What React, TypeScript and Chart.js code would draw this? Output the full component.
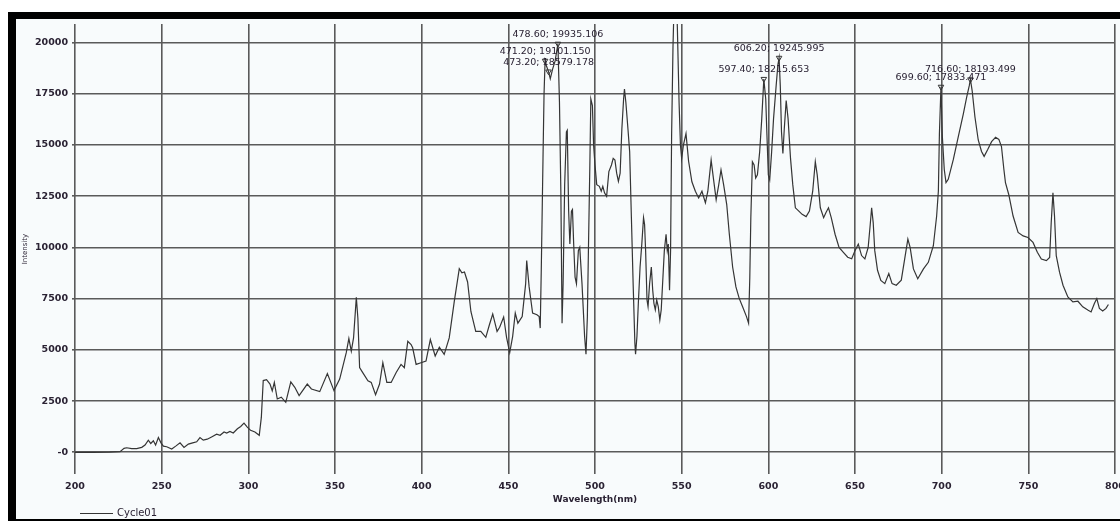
import React, { useEffect, useRef } from 'react';
import { Chart, registerables } from 'chart.js';

Chart.register(...registerables);

const seriesName = 'Cycle01';
const xTitle = 'Wavelength(nm)';
const yTitle = 'Intensity';

const wavelengths = [
  200, 210, 220, 226, 228.3, 229.8, 232.7, 235.6, 238.5, 240.4, 242.3, 243.7, 245.2, 246.5, 248.1, 249.6,
  251, 252.9, 255.8, 258.1, 260.6, 262.9, 265.4, 267.9, 270.2, 272.1, 274, 276.3, 278.8, 281.7, 283.7, 286,
  287.5, 289.4, 291.3, 293.7, 295.6, 297.5, 299.4, 301.3, 303.8, 306.3, 307.5, 308.6, 310.5, 312.5, 313.8, 315,
  316.7, 319, 321.6, 324.5, 326.8, 329.3, 334, 336.4, 341.2, 345.6, 349.4, 352.7, 356.5, 358, 359.4, 360.7,
  362.3, 363.2, 364.2, 366, 369, 370.9, 373.4, 375.7, 377.6, 379.9, 382.4, 385.3, 388.1, 390, 392, 393.9,
  394.8, 396.8, 399.6, 402.5, 405, 407.8, 410.2, 413, 415.9, 418.8, 421.7, 423.2, 424.7, 426.5, 428.4, 431.2,
  434.1, 437, 439, 441, 443.5, 445, 447.3, 449, 450.8, 452.5, 454, 455.5, 458, 460, 460.6, 462,
  464, 466.5, 467.8, 468.4, 469, 470, 470.6, 471.2, 472, 473.2, 474.2, 475.5, 477, 478.6, 479.5, 480.3,
  481, 481.6, 482.5, 483.5, 484, 484.8, 485.5, 486.4, 487, 487.7, 488.5, 489.3, 490.4, 491.2, 492.5, 494,
  494.8, 495.6, 496.2, 497, 497.6, 498.5, 499.2, 500, 501, 502.5, 503.6, 504.5, 505.5, 506.7, 508, 509.5,
  510.5, 511.5, 512.5, 513.5, 514.5, 515.5, 516.5, 517, 517.8, 519, 520, 521, 522, 523, 523.4, 524.2,
  525, 526, 527, 528, 528.6, 529.2, 530, 530.6, 531.5, 532.5, 533.3, 534, 534.8, 535.6, 536.5, 537.4,
  538.2, 539, 540, 541, 541.7, 542.3, 543, 543.6, 544.2, 545, 545.8, 546.8, 547.5, 548.5, 549.3, 550,
  551, 552.5, 554, 555.9, 557.9, 559.8, 561.7, 563.7, 565.1, 567, 568.3, 569.9, 571.4, 572.7, 574.2, 576,
  577.5, 579.4, 581.3, 583.2, 585.1, 587.4, 588.6, 589.3, 589.9, 590.8, 591.8, 592.7, 593.7, 595, 596.2, 597.4,
  598.5, 599.2, 600, 600.8, 601.9, 603, 604.5, 605.5, 606.2, 606.9, 607.6, 608.4, 609.2, 610.3, 611.4, 612.8,
  614.1, 615.6, 617.6, 619.5, 621.8, 623.7, 625.6, 627.1, 628.2, 630, 631.9, 633.2, 634.7, 636.3, 638.5, 640.8,
  643.3, 645.8, 648.1, 650, 651.9, 653.8, 655.7, 657.6, 658.8, 659.6, 660.5, 661.4, 663, 664.9, 667.2, 669.5,
  671.4, 673.8, 676.7, 678.6, 680.5, 681.8, 683.7, 686.2, 689.5, 692.3, 695.2, 697.1, 698.1, 698.7, 699.6, 700.4,
  701.5, 702.5, 703.8, 706.7, 709.6, 712.5, 714.4, 715.9, 716.6, 717.6, 719.2, 721.1, 723, 724.5, 726.5, 728.8,
  731.1, 733, 734.5, 735.9, 736.8, 738.7, 741.2, 744.1, 747, 749.8, 752.7, 755.2, 757.5, 760.4, 762.3, 763.2,
  764.2, 765.1, 766.1, 768, 770, 772.8, 775.7, 778.6, 781.4, 784.3, 786.2, 788.1, 789.5, 791, 792.9, 794.8,
  796.2,
];

const intensities = [
  0, 0, 10, 30, 190, 220, 175, 175, 240, 350, 590, 430, 560, 350, 720, 460,
  300, 270, 160, 300, 460, 240, 400, 460, 510, 720, 590, 640, 750, 880, 830, 990,
  940, 1020, 940, 1150, 1260, 1420, 1230, 1070, 990, 830, 1700, 3500, 3540, 3330, 3000, 3410,
  2600, 2690, 2440, 3440, 3170, 2770, 3330, 3090, 2960, 3840, 3010, 3570, 4860, 5550, 4940, 5580,
  7560, 6540, 4130, 3890, 3490, 3410, 2810, 3330, 4370, 3410, 3410, 3890, 4290, 4130, 5420, 5260,
  5100, 4290, 4370, 4450, 5500, 4700, 5130, 4780, 5580, 7350, 8960, 8760, 8800, 8310, 6870, 5900,
  5900, 5610, 6200, 6750, 5900, 6100, 6600, 5600, 4860, 5660, 6790, 6300, 6620, 8230, 9360, 8070,
  6790, 6710, 6620, 6060, 8880, 14340, 17480, 19101.15, 18850, 18579.178, 18230, 18690, 19100, 19935.106, 17080, 12740,
  6300, 8230, 13060, 15630, 15710, 11770, 10160, 11770, 11850, 10160, 8550, 8230, 9840, 10000, 8230, 5660,
  4780, 6620, 9840, 13860, 17240, 16920, 14990, 14020, 13060, 12980, 12740, 12980, 12660, 12490, 13700, 14020,
  14340, 14260, 13620, 13220, 13620, 15790, 17240, 17720, 17080, 15790, 14660, 11450, 8230, 5340, 4780, 5660,
  7270, 9040, 10160, 11450, 11130, 9840, 7430, 7110, 8230, 9040, 7910, 7270, 6950, 7430, 7110, 6460,
  6950, 8230, 9840, 10640, 9840, 10160, 7910, 9840, 15470, 19810, 22500, 22500, 20780, 17080, 14990, 14340,
  14990, 15550, 14200, 13200, 12740, 12410, 12740, 12170, 12740, 14260, 13380, 12330, 13060, 13780, 13060, 12090,
  10640, 9040, 8070, 7510, 7110, 6620, 6300, 8500, 11450, 14180, 14020, 13380, 13540, 14660, 16270, 18215.653,
  17240, 15470, 13540, 13300, 14660, 16270, 17880, 18900, 19245.995, 17880, 15630, 14580, 15790, 17160, 16270, 14340,
  13060, 11930, 11770, 11610, 11500, 11770, 12740, 14180, 13540, 11930, 11450, 11690, 11930, 11450, 10640, 10000,
  9760, 9520, 9440, 9840, 10160, 9600, 9440, 10000, 11130, 11930, 11210, 9840, 8880, 8390, 8230, 8720,
  8230, 8150, 8400, 9400, 10400, 10000, 8950, 8470, 8950, 9270, 10080, 11530, 12750, 15560, 17833.471, 15400,
  13800, 13160, 13320, 14280, 15400, 16520, 17320, 17880, 18193.499, 17640, 16360, 15240, 14680, 14440, 14760, 15160,
  15370, 15270, 14920, 13800, 13160, 12580, 11530, 10730, 10560, 10480, 10240, 9760, 9430, 9350, 9510, 11210,
  12660, 11530, 9600, 8790, 8150, 7580, 7340, 7370, 7100, 6940, 6850, 7260, 7500, 7020, 6890, 7020,
  7210,
];

const peakWavelengths = [478.6, 471.2, 473.2, 606.2, 597.4, 716.6, 699.6];
const peakIntensities = [19935.106, 19101.15, 18579.178, 19245.995, 18215.653, 18193.499, 17833.471];

const xTicks = [200, 250, 300, 350, 400, 450, 500, 550, 600, 650, 700, 750, 800];
const yTicks = [0, 2500, 5000, 7500, 10000, 12500, 15000, 17500, 20000];
const yTickLabels = ['-0', '2500', '5000', '7500', '10000', '12500', '15000', '17500', '20000'];

const TEXT = '#2a2233';
const GRID = '#5a5a5a';
const LINE = '#353535';

const peakLabelPlugin = {
  id: 'peakLabels',
  afterDatasetsDraw(chart: any) {
    const { ctx, scales } = chart;
    const xs = scales.x;
    const ys = scales.y;
    ctx.save();
    ctx.font = '9.5px "DejaVu Sans"';
    ctx.fillStyle = TEXT;
    ctx.textAlign = 'center';
    ctx.textBaseline = 'middle';
    peakWavelengths.forEach((w, i) => {
      const v = peakIntensities[i];
      const px = xs.getPixelForValue(w);
      const py = ys.getPixelForValue(v);
      ctx.fillText(`${w.toFixed(2)}; ${v.toFixed(3)}`, px, py - 9.5);
    });
    ctx.restore();
  },
};

const legendPlugin = {
  id: 'bottomLegend',
  afterDraw(chart: any) {
    const { ctx } = chart;
    const ds = chart.data.datasets[0];
    const y = 494;
    ctx.save();
    ctx.strokeStyle = ds.borderColor;
    ctx.lineWidth = 1;
    ctx.beginPath();
    ctx.moveTo(64, y + 0.5);
    ctx.lineTo(97, y + 0.5);
    ctx.stroke();
    ctx.font = '10px "DejaVu Sans"';
    ctx.fillStyle = TEXT;
    ctx.textAlign = 'left';
    ctx.textBaseline = 'middle';
    ctx.fillText(ds.label, 101, y);
    ctx.restore();
  },
};

export default function App() {
  const canvasRef = useRef<HTMLCanvasElement | null>(null);

  useEffect(() => {
    const canvas = canvasRef.current;
    if (!canvas) return;
    const chart = new Chart(canvas, {
      type: 'scatter',
      data: {
        datasets: [
          {
            label: seriesName,
            data: wavelengths.map((w, i) => ({ x: w, y: intensities[i] })),
            showLine: true,
            borderColor: LINE,
            backgroundColor: LINE,
            borderWidth: 1.2,
            pointRadius: 0,
            tension: 0,
          },
          {
            label: 'peaks',
            data: peakWavelengths.map((w, i) => ({ x: w, y: peakIntensities[i] })),
            showLine: false,
            pointStyle: 'triangle',
            rotation: 180,
            pointRadius: 3.2,
            borderColor: '#333',
            backgroundColor: 'rgba(0,0,0,0)',
            borderWidth: 1,
          },
        ],
      },
      options: {
        animation: false,
        responsive: false,
        maintainAspectRatio: false,
        layout: { padding: { left: 0, right: 3, top: 0, bottom: 0 } },
        plugins: {
          legend: { display: false },
          tooltip: { enabled: false },
        },
        scales: {
          x: {
            type: 'linear',
            min: 200,
            max: 800,
            afterBuildTicks: (s: any) => {
              s.ticks = xTicks.map((v) => ({ value: v }));
            },
            afterFit: (s: any) => {
              s.height = 45;
              s.paddingLeft = 0;
              s.paddingRight = 0;
            },
            ticks: {
              autoSkip: false,
              maxRotation: 0,
              padding: 7,
              color: TEXT,
              font: { family: 'DejaVu Sans', size: 9.5, weight: 'bold' },
            },
            grid: { color: GRID, lineWidth: 1.6, drawTicks: false },
            border: { display: false },
            title: {
              display: true,
              text: xTitle,
              color: TEXT,
              font: { family: 'DejaVu Sans', size: 9, weight: 'bold' },
              padding: { top: 0, bottom: 13.5 },
            },
          },
          y: {
            type: 'linear',
            min: -1060,
            max: 20900,
            afterBuildTicks: (s: any) => {
              s.ticks = yTicks.map((v) => ({ value: v }));
            },
            afterFit: (s: any) => {
              s.width = 59;
              s.paddingTop = 0;
              s.paddingBottom = 0;
            },
            ticks: {
              autoSkip: false,
              padding: 4,
              color: TEXT,
              font: { family: 'DejaVu Sans', size: 9.5, weight: 'bold' },
              callback: (v: any) => {
                const i = yTicks.indexOf(Number(v));
                return i >= 0 ? yTickLabels[i] : '';
              },
            },
            grid: { color: GRID, lineWidth: 1.6, tickLength: 3 },
            border: { display: false },
            title: {
              display: true,
              text: yTitle,
              color: TEXT,
              font: { family: 'DejaVu Sans', size: 7 },
              padding: { top: 5, bottom: 0 },
            },
          },
        },
      },
      plugins: [peakLabelPlugin, legendPlugin],
    });
    return () => chart.destroy();
  }, []);

  return (
    <div style={{ position: 'fixed', left: 0, top: 0, width: 1120, height: 521, background: '#ffffff', overflow: 'hidden' }}>
      <div
        style={{
          position: 'absolute',
          left: 8,
          top: 12,
          width: 1112,
          height: 509,
          boxSizing: 'border-box',
          borderLeft: '8px solid #000',
          borderTop: '7px solid #000',
          borderBottom: '2px solid #000',
          background: '#f8fbfc',
        }}
      />
      <canvas
        ref={canvasRef}
        width={1104}
        height={500}
        style={{ position: 'absolute', left: 16, top: 19, width: 1104, height: 500 }}
      />
    </div>
  );
}
